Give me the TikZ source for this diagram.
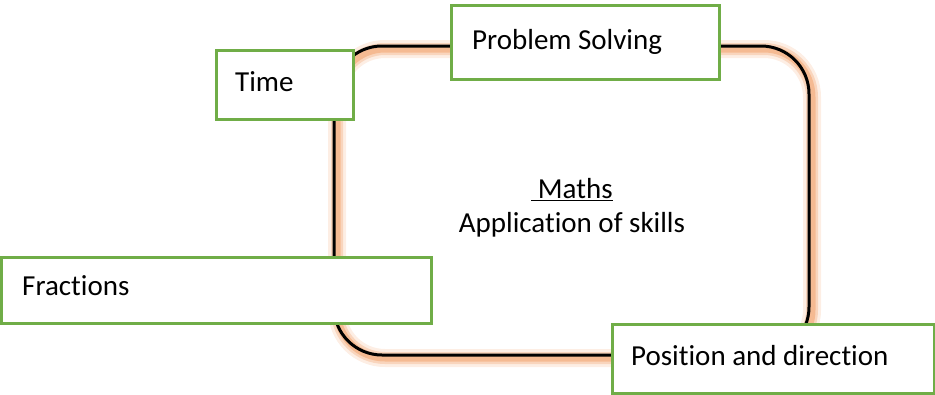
\documentclass[tikz,border=0pt]{standalone}
\usepackage{fontspec}
\setmainfont[Ligatures=NoCommon]{Carlito}
\begin{document}
\begin{tikzpicture}[x=1pt,y=-1pt,
  box/.style={draw=boxgreen, line width=2.5pt, fill=white, inner sep=0pt, anchor=north west},
  lbl/.style={font=\fontsize{29}{34}\selectfont, anchor=west, inner sep=0pt},
  glow/.style={draw=glowc, line cap=round, line join=round, rounded corners=48pt}]
\definecolor{boxgreen}{HTML}{70AD47}
\definecolor{glowc}{HTML}{F4B183}
\useasboundingbox (0,0) rectangle (935,394);
% glow
\begin{scope}[shift={(3,3)}]
\draw[glow, line width=18pt, opacity=0.22] (334,46) rectangle (809,355);
\draw[glow, line width=12pt, opacity=0.4] (334,46) rectangle (809,355);
\draw[glow, line width=7pt, opacity=0.75] (334,46) rectangle (809,355);
\end{scope}
% main frame
\draw[line width=3pt, rounded corners=48pt] (334,46) rectangle (809,355);
% boxes
\node[box, minimum width=137pt, minimum height=69pt] (time) at (215,49) {};
\node[box, minimum width=268pt, minimum height=74pt] (ps) at (450,4) {};
\node[box, minimum width=430pt, minimum height=66pt] (frac) at (0,256) {};
\node[box, minimum width=322pt, minimum height=69pt] (pos) at (611,323) {};
% labels
\node[lbl] (tl) at (235,82) {Time};
\node[lbl] (pl) at (472,42) {Problem Solving};
\node[lbl] (fl) at (22,286) {Fractions};
\node[lbl] (posl) at (631,356) {Position and direction};
\node[font=\fontsize{29}{34}\selectfont, inner sep=0pt, align=center] (m) at (572,208) {\underline{\ Maths}\\Application of skills};
\end{tikzpicture}
\end{document}
